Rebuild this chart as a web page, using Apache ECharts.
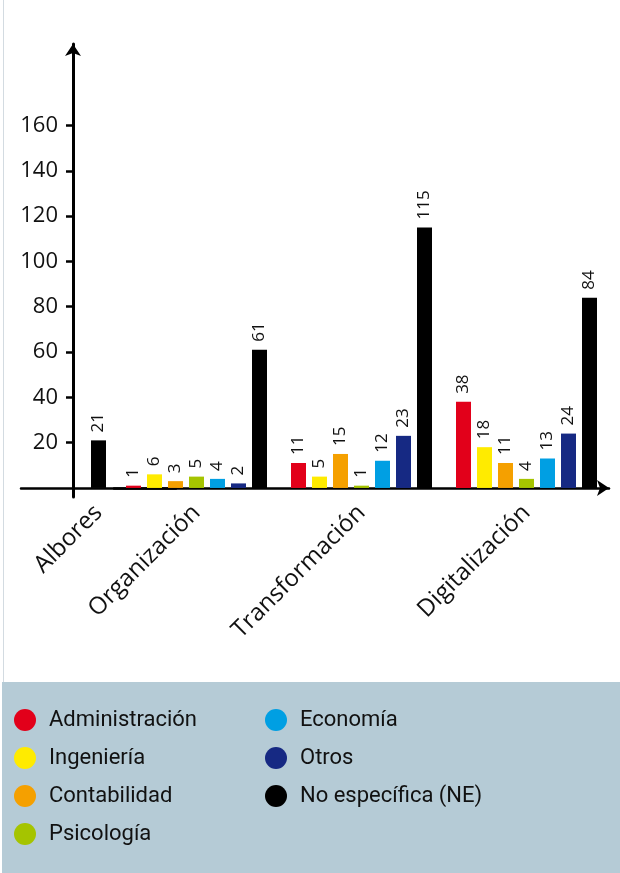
<!DOCTYPE html>
<html>
<head>
<meta charset="utf-8">
<script src="https://cdn.jsdelivr.net/npm/echarts@6/dist/echarts.min.js"></script>
<style>
html,body{margin:0;padding:0;background:#fff;}
#chart{width:620px;height:873px;}
</style>
</head>
<body>
<div id="chart"></div>
<script>
const categories = ['Albores', 'Organización', 'Transformación', 'Digitalización'];
const seriesNames = ['Administración', 'Ingeniería', 'Contabilidad', 'Psicología', 'Economía', 'Otros', 'No específica (NE)'];
const administracion = [null, 1, 11, 38];
const ingenieria = [null, 6, 5, 18];
const contabilidad = [null, 3, 15, 11];
const psicologia = [null, 5, 1, 4];
const economia = [null, 4, 12, 13];
const otros = [null, 2, 23, 24];
const noEspecifica = [21, 61, 115, 84];
const yTickValues = [20, 40, 60, 80, 100, 120, 140, 160];

const seriesValues = [administracion, ingenieria, contabilidad, psicologia, economia, otros, noEspecifica];
const colors = ['#e2001a', '#ffeb00', '#f5a000', '#a5c400', '#009fe3', '#162983', '#000000'];

const FONT = 'Open Sans';
const LFONT = 'Roboto';

const labelCfg = {
  show: true, position: 'top', rotate: 90, align: 'left', verticalAlign: 'middle',
  distance: 8, fontSize: 17, color: '#111', fontFamily: FONT
};

const series = [];
// Albores group (only NE) in its own grid
series.push({
  name: seriesNames[6], type: 'bar', xAxisIndex: 0, yAxisIndex: 0,
  data: noEspecifica.slice(0, 1), barWidth: 15,
  itemStyle: { color: colors[6] }, label: labelCfg
});
seriesValues.forEach((vals, i) => {
  series.push({
    name: seriesNames[i], type: 'bar', xAxisIndex: 1, yAxisIndex: 1,
    data: vals.slice(1), barWidth: 15, barGap: '40%',
    itemStyle: { color: colors[i] }, label: labelCfg
  });
});

const xLabel = { rotate: 45, fontSize: 24, margin: 12, color: '#111', fontFamily: FONT, interval: 0 };
const legendText = { fontSize: 22, color: '#111', fontFamily: LFONT };

const option = {
  animation: false,
  color: colors,
  graphic: [
    { type: 'line', z: -1, silent: true, shape: { x1: 3.5, y1: 0, x2: 3.5, y2: 682 }, style: { stroke: '#d3dbe1', lineWidth: 1 } },
    { type: 'rect', z: -1, silent: true, shape: { x: 2, y: 682, width: 618, height: 191 }, style: { fill: '#b5cbd6' } }
  ],
  grid: [
    { left: 21, width: 155, top: 44, bottom: 376, outerBoundsMode: 'none' },
    { left: 114, right: 11, top: 44, bottom: 376, outerBoundsMode: 'none' }
  ],
  xAxis: [
    {
      gridIndex: 0, type: 'category', data: categories.slice(0, 1),
      axisLine: { lineStyle: { color: '#000', width: 2.5 } },
      axisTick: { alignWithLabel: true, length: 9, lineStyle: { color: '#000', width: 3 } },
      axisLabel: xLabel
    },
    {
      gridIndex: 1, type: 'category', data: categories.slice(1),
      axisLine: { lineStyle: { color: '#000', width: 2.5 }, symbol: ['none', 'arrow'], symbolSize: [12, 12] },
      axisTick: { alignWithLabel: true, length: 9, lineStyle: { color: '#000', width: 3 } },
      axisLabel: xLabel
    }
  ],
  yAxis: [
    { gridIndex: 0, type: 'value', min: -4, max: 196, show: false, splitLine: { show: false } },
    {
      gridIndex: 1, type: 'value', min: -4, max: 196, offset: 41,
      axisLine: { show: true, lineStyle: { color: '#000', width: 3 }, symbol: ['none', 'arrow'], symbolSize: [12, 12] },
      axisTick: { show: true, length: 7, lineStyle: { color: '#000', width: 2.5 }, customValues: yTickValues },
      axisLabel: { customValues: yTickValues, margin: 15, fontSize: 22, color: '#111', fontFamily: FONT },
      splitLine: { show: false }
    }
  ],
  legend: [
    {
      data: seriesNames.slice(0, 4), orient: 'vertical', left: 9, top: 704,
      itemWidth: 38, itemHeight: 22, itemGap: 16, icon: 'circle', textStyle: legendText,
      selectedMode: false
    },
    {
      data: seriesNames.slice(4), orient: 'vertical', left: 260, top: 704,
      itemWidth: 38, itemHeight: 22, itemGap: 16, icon: 'circle', textStyle: legendText,
      selectedMode: false
    }
  ],
  series: series
};

const chart = echarts.init(document.getElementById('chart'), null, { renderer: 'canvas' });
chart.setOption(option);
</script>
</body>
</html>
